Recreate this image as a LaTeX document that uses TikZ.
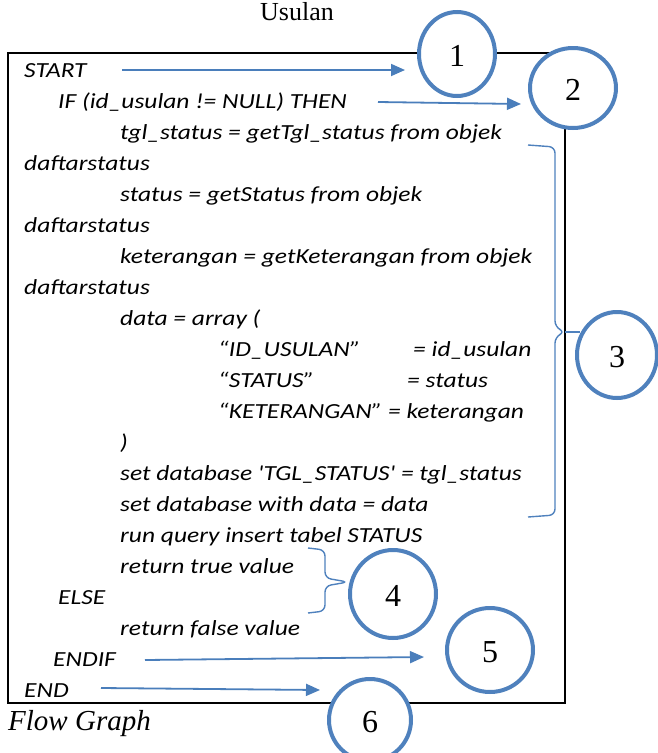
\documentclass[tikz,border=0pt]{standalone}
\usepackage{fontspec}
\setmainfont{Liberation Serif}
\newfontfamily\codefont{Carlito}
\usetikzlibrary{arrows.meta}
\definecolor{ringblue}{HTML}{4F81BD}
\definecolor{arrowblue}{HTML}{4A7EBB}
\tikzset{
  code/.style={anchor=base west, inner sep=0pt, font=\codefont\itshape\fontsize{21.5}{24}\selectfont, xscale=1.185, transform shape},
  ring/.style={draw=ringblue, line width=4pt, fill=white},
  num/.style={font=\fontsize{32}{34}\selectfont},
  flowarrow/.style={draw=arrowblue, line width=1.8pt, -{Triangle[length=14pt,width=12pt]}},
  bracket/.style={draw=ringblue, line width=1.4pt, rounded corners=6pt},
  tie/.style={draw=ringblue, line width=1.4pt},
}
\begin{document}
\begin{tikzpicture}[x=1pt, y=-1pt]
\useasboundingbox (0,0) rectangle (657,753);

% title and caption
\node[font=\fontsize{26}{28}\selectfont, anchor=base] (title) at (297,20) {Usulan};
\node[font=\itshape\fontsize{29}{31}\selectfont, anchor=base west, inner sep=0pt] (caption) at (8,730) {Flow Graph};

% frame around the pseudocode
\draw[line width=2.4pt] (8,53) rectangle (565,703);

% pseudocode lines
\node[code] (l1)  at (24,77)  {START};
\node[code] (l2)  at (58,108) {IF (id\_usulan != NULL) THEN};
\node[code] (l3)  at (120,139) {tgl\_status = getTgl\_status from objek};
\node[code] (l4)  at (24,170) {daftarstatus};
\node[code] (l5)  at (120,201) {status = getStatus from objek};
\node[code] (l6)  at (24,232) {daftarstatus};
\node[code] (l7)  at (120,263) {keterangan = getKeterangan from objek};
\node[code] (l8)  at (24,294) {daftarstatus};
\node[code] (l9)  at (120,325) {data = array (};
\node[code] (l10) at (218,356) {“ID\_USULAN”};
\node[code] (l10b) at (413,356) {= id\_usulan};
\node[code] (l11) at (218,387) {“STATUS”};
\node[code] (l11b) at (407,387) {= status};
\node[code] (l12) at (218,418) {“KETERANGAN” = keterangan};
\node[code] (l13) at (120,449) {)};
\node[code] (l14) at (120,480) {set database \textquotesingle TGL\_STATUS\textquotesingle\ = tgl\_status};
\node[code] (l15) at (120,511) {set database with data = data};
\node[code] (l16) at (120,542) {run query insert tabel STATUS};
\node[code] (l17) at (120,573) {return true value};
\node[code] (l18) at (58,604) {ELSE};
\node[code] (l19) at (120,635) {return false value};
\node[code] (l20) at (53,666) {ENDIF};
\node[code] (l21) at (24,697) {END};

% numbered rings
\foreach \n/\x/\y/\rx/\ry in {1/457/54/38/42, 2/573/88/43/40, 3/617/355/40/43, 4/393/594/43/44, 5/490/650/43/42, 6/370/720/41/41}{
  \draw[ring] (\x,\y) ellipse [x radius=\rx, y radius=\ry];
  \node[num] (c\n) at (\x,\y+2) {\n};
}

% arrows into the rings
\coordinate (s1) at (122,70);  \coordinate (e1) at (405,70);
\coordinate (s2) at (378,102); \coordinate (e2) at (521,104);
\coordinate (s5) at (145,660); \coordinate (e5) at (424,657);
\coordinate (s6) at (101,688); \coordinate (e6) at (320,690);
\draw[flowarrow] (s1) -- (e1);
\draw[flowarrow] (s2) -- (e2);
\draw[flowarrow] (s5) -- (e5);
\draw[flowarrow] (s6) -- (e6);

% brackets grouping statements
\coordinate (b3tip) at (565,332);
\draw[bracket] (528,145) -- (555,147) -- (555,327) -- (b3tip) -- (555,337) -- (555,515) -- (528,517);
\draw[tie] (b3tip) -- (580,332);
\coordinate (b4tip) at (348,582);
\draw[bracket] (308,548) -- (325,550) -- (325,578) -- (b4tip) -- (325,586) -- (325,611) -- (308,613);
\end{tikzpicture}
\end{document}
